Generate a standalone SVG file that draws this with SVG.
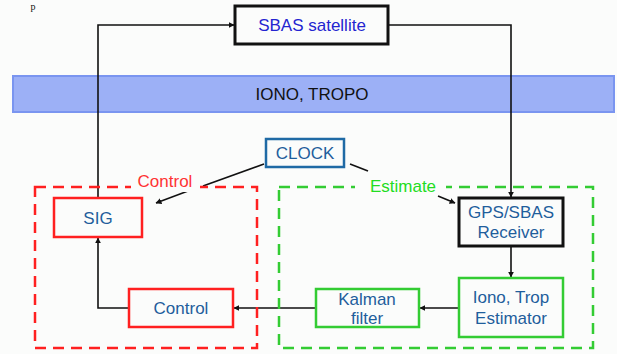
<svg xmlns="http://www.w3.org/2000/svg" width="617" height="354" viewBox="0 0 617 354">
  <style>
    text { font-family: "Liberation Sans", Arial, sans-serif; font-size: 17px; text-anchor: middle; }
    .node-text { fill: #1f5e9c; }
    .box-black { fill: #fbfcfb; stroke: #111; stroke-width: 3; }
    .box-red { fill: #fbfcfb; stroke: #ff2020; stroke-width: 2.5; }
    .box-green { fill: #fbfcfb; stroke: #33cc33; stroke-width: 2.5; }
    .box-blue { fill: #fbfcfb; stroke: #1f6aa5; stroke-width: 2.5; }
    .group-red { fill: none; stroke: #ff2020; stroke-width: 2.5; stroke-dasharray: 11 7; }
    .group-green { fill: none; stroke: #33cc33; stroke-width: 2.5; stroke-dasharray: 11 7; }
    .wire { fill: none; stroke: #111; stroke-width: 1.6; }
  </style>
  <defs>
    <marker id="arrow" viewBox="0 0 10 10" refX="9" refY="5" markerWidth="6" markerHeight="6" markerUnits="userSpaceOnUse" orient="auto">
      <path d="M0,0 L10,5 L0,10 z" fill="#111"/>
    </marker>
  </defs>

  <rect x="0" y="0" width="617" height="354" fill="#fbfcfb"/>

  <!-- fragment of running text above the figure -->
  <text x="33" y="10" style="font-family: 'Liberation Serif', serif; font-size: 10px; fill: #111;">p</text>

  <!-- atmosphere band -->
  <g id="iono-tropo">
    <rect x="13" y="76" width="601" height="36" fill="#9cb0f6" stroke="#7a95f0" stroke-width="2"/>
  </g>

  <!-- connectors -->
  <g id="connectors">
    <!-- SIG up to the satellite -->
    <polyline class="wire" points="98,198 98,25 234,25" marker-end="url(#arrow)"/>
    <!-- satellite down to the receiver -->
    <polyline class="wire" points="388,25 511,25 511,197" marker-end="url(#arrow)"/>
    <!-- receiver to estimator -->
    <line class="wire" x1="511" y1="247" x2="511" y2="277" marker-end="url(#arrow)"/>
    <!-- estimator to Kalman filter -->
    <line class="wire" x1="459" y1="308" x2="420" y2="308" marker-end="url(#arrow)"/>
    <!-- Kalman filter to control -->
    <line class="wire" x1="316" y1="308" x2="234" y2="308" marker-end="url(#arrow)"/>
    <!-- control back to SIG -->
    <polyline class="wire" points="129,308 98,308 98,238" marker-end="url(#arrow)"/>
    <!-- clock distribution -->
    <line class="wire" x1="264" y1="164" x2="203" y2="186"/>
    <line class="wire" x1="188" y1="191" x2="156" y2="203" marker-end="url(#arrow)"/>
    <line class="wire" x1="350" y1="164" x2="368" y2="171"/>
    <line class="wire" x1="438" y1="196" x2="455" y2="203" marker-end="url(#arrow)"/>
  </g>

  <!-- band label drawn over the vertical wires -->
  <text x="312" y="100" fill="#111">IONO, TROPO</text>

  <!-- control group -->
  <g id="control-group">
    <rect class="group-red" x="35" y="187" width="222" height="161"/>
    <rect x="131" y="176" width="69" height="16" fill="#fbfcfb"/>
    <text x="165" y="187" fill="#ff3333">Control</text>
  </g>

  <!-- estimate group -->
  <g id="estimate-group">
    <rect class="group-green" x="279" y="187" width="314" height="161"/>
    <rect x="355" y="177" width="91" height="16" fill="#fbfcfb"/>
    <text x="403" y="192" fill="#22dd22">Estimate</text>
  </g>

  <g id="sbas-satellite">
    <rect class="box-black" x="235" y="6" width="153" height="38"/>
    <text x="312" y="31" fill="#2424d0">SBAS satellite</text>
  </g>

  <g id="clock">
    <rect class="box-blue" x="266" y="139" width="78" height="28"/>
    <text class="node-text" x="305" y="159">CLOCK</text>
  </g>

  <g id="sig">
    <rect class="box-red" x="54" y="198" width="88" height="39"/>
    <text class="node-text" x="98" y="224">SIG</text>
  </g>

  <g id="control">
    <rect class="box-red" x="129" y="289" width="104" height="38"/>
    <text class="node-text" x="181" y="314">Control</text>
  </g>

  <g id="gps-sbas-receiver">
    <rect class="box-black" x="459" y="198" width="104" height="48"/>
    <text class="node-text" x="511" y="218">GPS/SBAS</text>
    <text class="node-text" x="511" y="238">Receiver</text>
  </g>

  <g id="iono-trop-estimator">
    <rect class="box-green" x="459" y="278" width="104" height="59"/>
    <text class="node-text" x="511" y="303">Iono, Trop</text>
    <text class="node-text" x="511" y="324">Estimator</text>
  </g>

  <g id="kalman-filter">
    <rect class="box-green" x="316" y="289" width="103" height="38"/>
    <text class="node-text" x="367" y="305">Kalman</text>
    <text class="node-text" x="367" y="324">filter</text>
  </g>
</svg>
